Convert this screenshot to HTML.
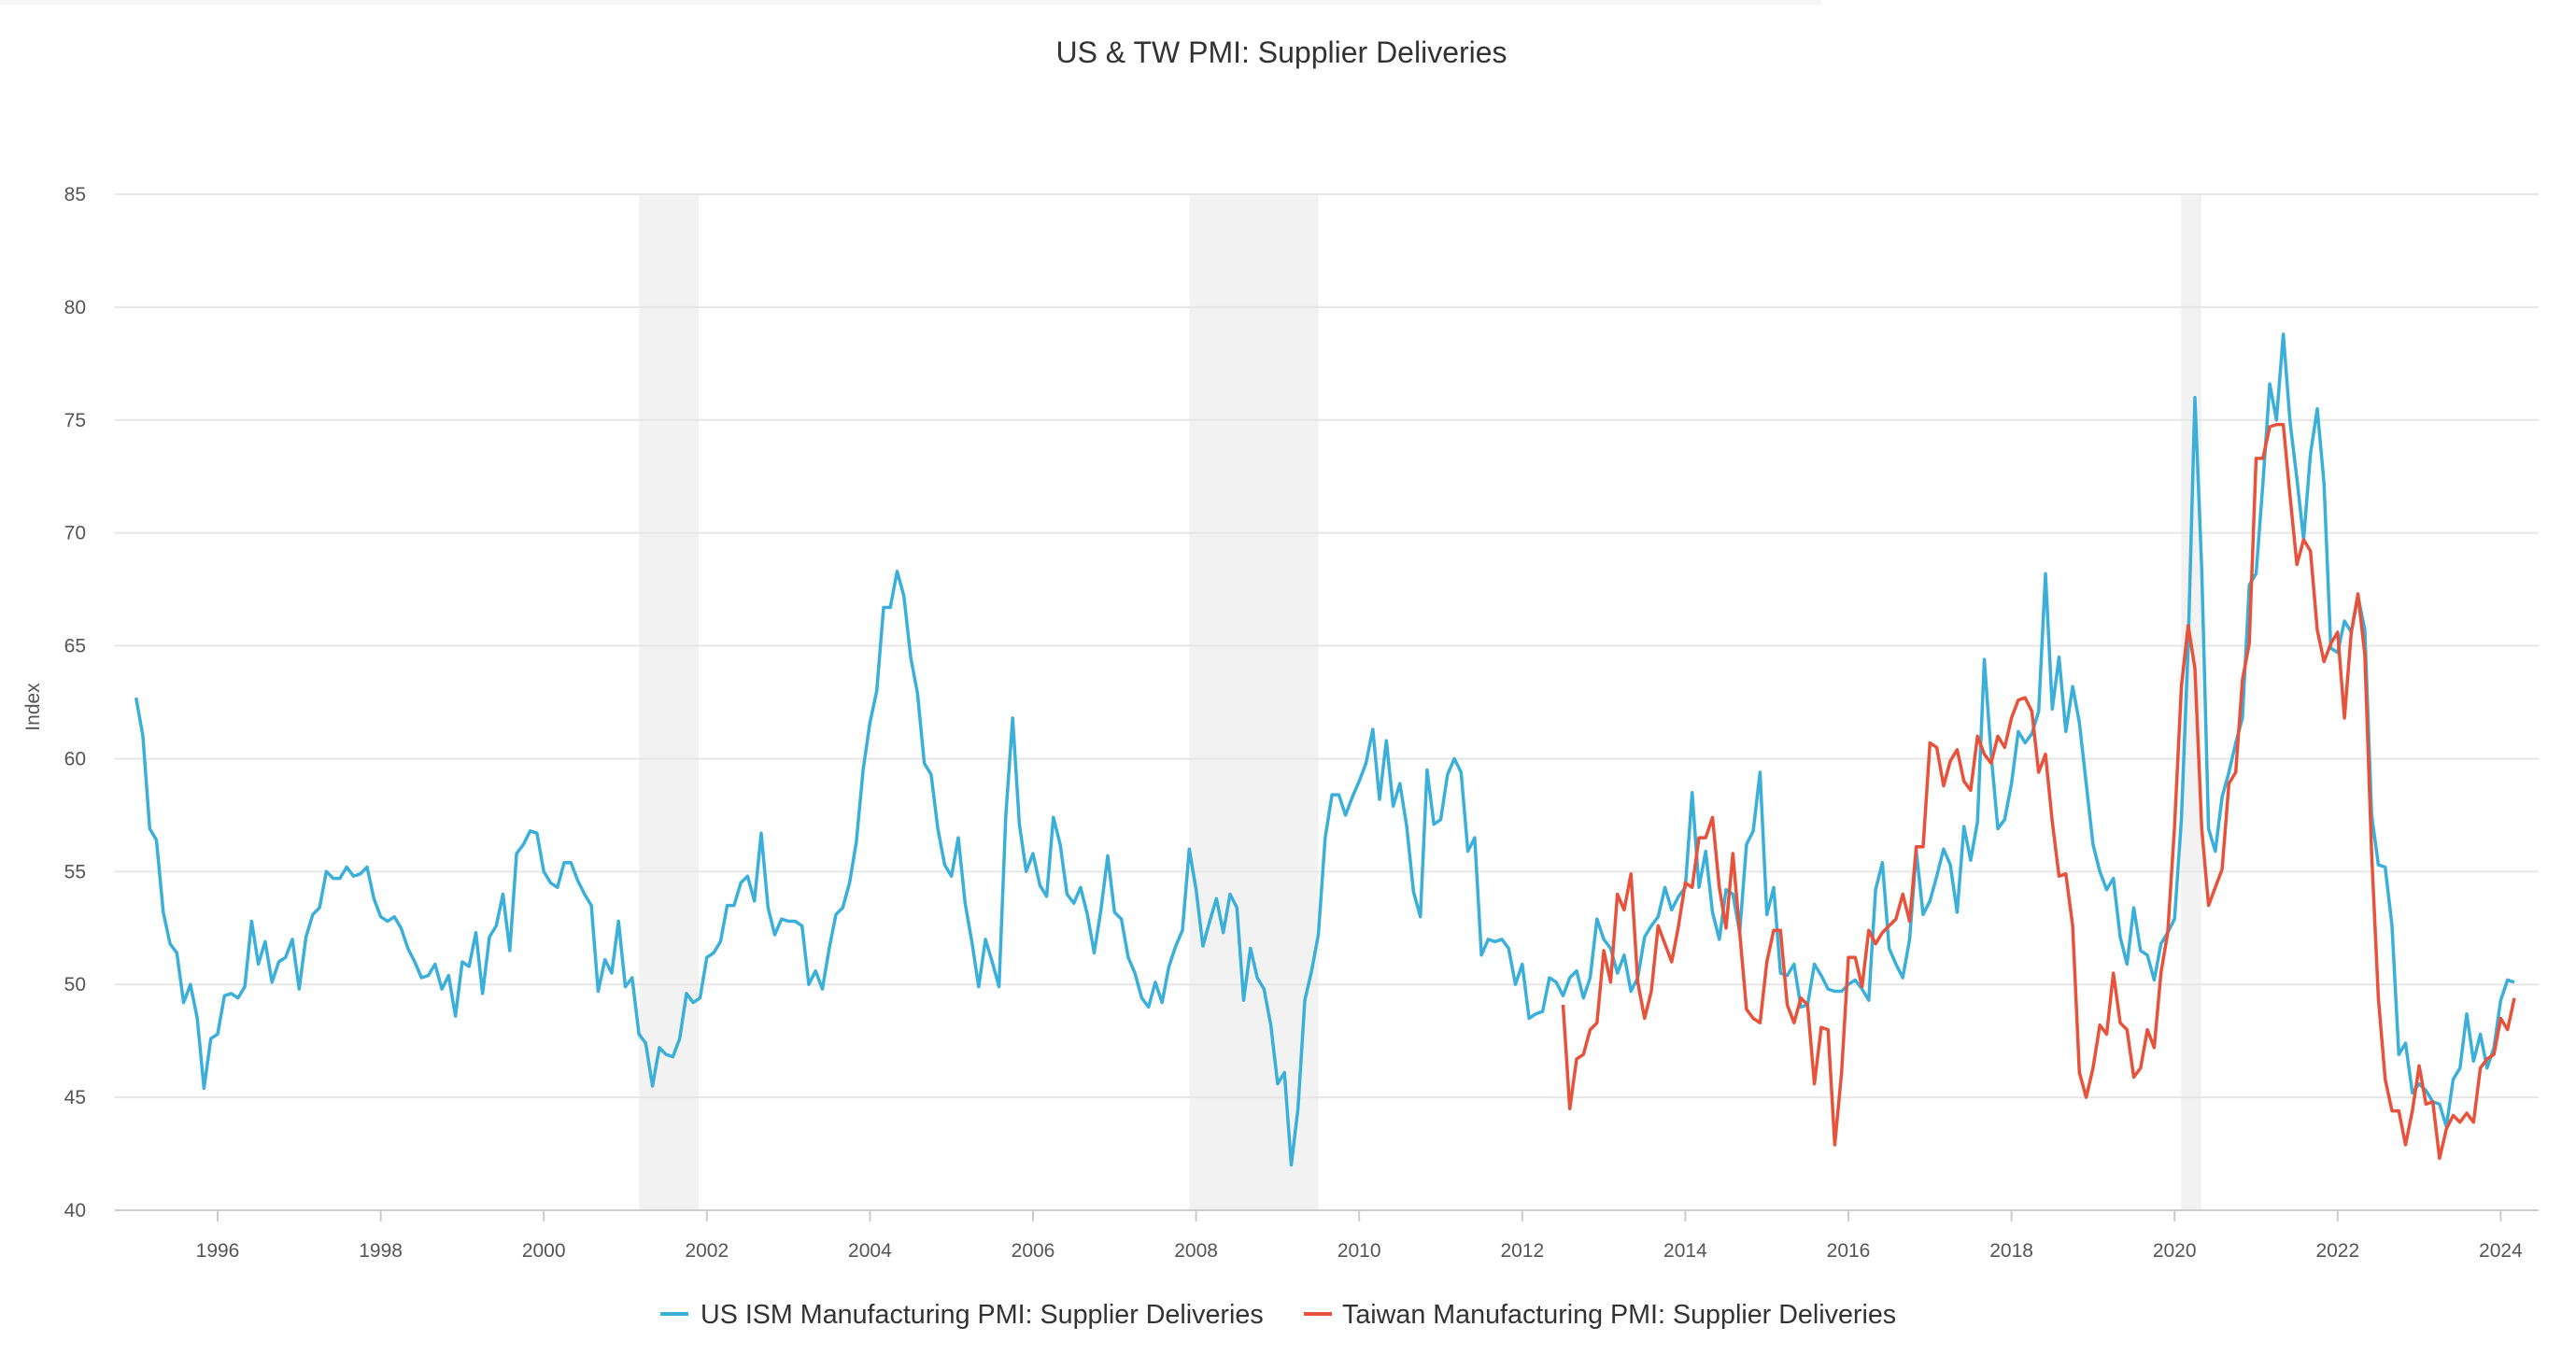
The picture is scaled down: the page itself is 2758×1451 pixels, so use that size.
<!DOCTYPE html>
<html><head><meta charset="utf-8"><style>
body{margin:0;background:#fff;}
svg text{font-family:"Liberation Sans",sans-serif;}
</style></head><body>
<svg id="chart" width="2758" height="1446" xmlns="http://www.w3.org/2000/svg">
<rect x="0" y="0" width="1950" height="5" fill="#f6f6f6"/>
<text x="1372" y="67" text-anchor="middle" font-size="32" fill="#333">US &amp; TW PMI: Supplier Deliveries</text>
<g id="bands"></g>
<g id="grid"></g>
<g id="xaxis"></g>
<g id="yaxis"></g>
<text x="0" y="0" transform="translate(42,757) rotate(-90)" text-anchor="middle" font-size="21" fill="#555">Index</text>
<g id="series"></g>
<g>
<g><line x1="707" y1="1407" x2="737" y2="1407" stroke="#3aafd9" stroke-width="4"/><text x="750" y="1417" font-size="28.7" fill="#333">US ISM Manufacturing PMI: Supplier Deliveries</text></g>
<g><line x1="1396" y1="1407" x2="1426" y2="1407" stroke="#e8523a" stroke-width="4"/><text x="1437" y="1417" font-size="28.7" fill="#333">Taiwan Manufacturing PMI: Supplier Deliveries</text></g>
</g>
</svg>
<script>
const usStart = 1995;
const usValues = [
62.7,61,56.9,56.4,53.2,51.8,51.4,49.2,50,48.5,45.4,47.6,
47.8,49.5,49.6,49.4,49.9,52.8,50.9,51.9,50.1,51,51.2,52,
49.8,52.1,53.1,53.4,55.0,54.7,54.7,55.2,54.8,54.9,55.2,53.8,
53,52.8,53,52.5,51.6,51.0,50.3,50.4,50.9,49.8,50.4,48.6,
51.0,50.8,52.3,49.6,52.1,52.6,54.0,51.5,55.8,56.2,56.8,56.7,
55.0,54.5,54.3,55.4,55.4,54.6,54.0,53.5,49.7,51.1,50.5,52.8,
49.9,50.3,47.8,47.4,45.5,47.2,46.9,46.8,47.6,49.6,49.2,49.4,
51.2,51.4,51.9,53.5,53.5,54.5,54.8,53.7,56.7,53.4,52.2,52.9,
52.8,52.8,52.6,50.0,50.6,49.8,51.6,53.1,53.4,54.5,56.3,59.5,
61.6,63.0,66.7,66.7,68.3,67.2,64.5,62.9,59.8,59.3,56.9,55.3,
54.8,56.5,53.6,51.9,49.9,52.0,51.0,49.9,57.5,61.8,57.1,55.0,
55.8,54.4,53.9,57.4,56.2,54.0,53.6,54.3,53.1,51.4,53.3,55.7,
53.2,52.9,51.2,50.5,49.4,49.0,50.1,49.2,50.8,51.7,52.4,56.0,
54.2,51.7,52.8,53.8,52.3,54.0,53.4,49.3,51.6,50.3,49.8,48.2,
45.6,46.1,42.0,44.5,49.3,50.6,52.2,56.5,58.4,58.4,57.5,58.3,
59.0,59.8,61.3,58.2,60.8,57.9,58.9,57.0,54.1,53.0,59.5,57.1,
57.3,59.3,60.0,59.4,55.9,56.5,51.3,52.0,51.9,52.0,51.6,50.0,
50.9,48.5,48.7,48.8,50.3,50.1,49.5,50.3,50.6,49.4,50.3,52.9,
52.0,51.6,50.5,51.3,49.7,50.3,52.1,52.6,53,54.3,53.3,53.9,
54.3,58.5,54.3,55.9,53.2,52,54.2,54.0,52.3,56.2,56.8,59.4,
53.1,54.3,50.5,50.4,50.9,49.0,49.1,50.9,50.4,49.8,49.7,49.7,
50.0,50.2,49.8,49.3,54.2,55.4,51.6,50.9,50.3,52.0,55.9,53.1,
53.7,54.8,56.0,55.3,53.2,57.0,55.5,57.2,64.4,60.2,56.9,57.3,
58.9,61.2,60.7,61.1,62.1,68.2,62.2,64.5,61.2,63.2,61.6,58.9,
56.2,55.0,54.2,54.7,52.1,50.9,53.4,51.5,51.3,50.2,51.8,52.3,
52.9,57.3,65,76.0,68.4,56.9,55.9,58.3,59.4,60.7,61.8,67.7,
68.2,72.2,76.6,75.0,78.8,74.9,72.4,69.7,73.5,75.5,72.2,64.9,
64.7,66.1,65.6,67.2,65.7,57.5,55.3,55.2,52.6,46.9,47.4,45.2,
45.6,45.3,44.8,44.7,43.7,45.8,46.3,48.7,46.6,47.8,46.3,47.2,
49.3,50.2,50.1];
const twStart = 2012.5;
const twValues = [
49.1,44.5,46.7,46.9,48.0,48.3,
51.5,50.1,54.0,53.3,54.9,50.1,48.5,49.7,52.6,51.8,51,52.6,
54.5,54.3,56.5,56.5,57.4,54.3,52.5,55.8,52.3,48.9,48.5,48.3,
51,52.4,52.4,49.1,48.3,49.4,49.1,45.6,48.1,48.0,42.9,46.1,
51.2,51.2,49.9,52.4,51.8,52.3,52.6,52.9,54.0,52.8,56.1,56.1,
60.7,60.5,58.8,59.9,60.4,59.0,58.6,61.0,60.2,59.8,61.0,60.5,
61.8,62.6,62.7,62.1,59.4,60.2,57.2,54.8,54.9,52.6,46.1,45.0,
46.3,48.2,47.8,50.5,48.3,48.0,45.9,46.3,48.0,47.2,50.5,52.3,
57,63.2,65.9,64,56.9,53.5,54.3,55.1,58.9,59.4,63.5,65.1,
73.3,73.3,74.7,74.8,74.8,71.6,68.6,69.7,69.2,65.7,64.3,65.1,
65.6,61.8,65.6,67.3,64.6,55.8,49.4,45.8,44.4,44.4,42.9,44.4,
46.4,44.7,44.8,42.3,43.6,44.2,43.9,44.3,43.9,46.3,46.7,46.9,
48.5,48.0,49.4];
const yTicks = [40,45,50,55,60,65,70,75,80,85];
const xTicks = [1996,1998,2000,2002,2004,2006,2008,2010,2012,2014,2016,2018,2020,2022,2024];
const recessions = [[2001.17,2001.9],[2007.92,2009.5],[2020.08,2020.33]];

const NS='http://www.w3.org/2000/svg';
const X0=123, X1=2718;
function xs(t){return 233+(t-1996)*87.3;}
function ys(v){return 208+(85-v)*(1088/45);}
function mk(tag,attrs,parent){const e=document.createElementNS(NS,tag);for(const k in attrs)e.setAttribute(k,attrs[k]);parent.appendChild(e);return e;}

const bands=document.getElementById('bands');
recessions.forEach(r=>{
  const e=mk('rect',{x:xs(r[0]),y:ys(85),width:xs(r[1])-xs(r[0]),height:ys(40)-ys(85),fill:'#f2f2f2'},bands);
  
  
});
const grid=document.getElementById('grid'), ya=document.getElementById('yaxis'), xa=document.getElementById('xaxis');
yTicks.forEach(v=>{
  const l=mk('line',{x1:X0,x2:X1,y1:ys(v),y2:ys(v),stroke:v===40?'#ccc':'#e6e6e6','stroke-width':2},grid);
  
  
  const t=mk('text',{x:92,y:ys(v)+7,'text-anchor':'end','font-size':21,fill:'#555'},ya);
  t.textContent=v;
  
  
});
xTicks.forEach(y=>{
  const l=mk('line',{x1:xs(y),x2:xs(y),y1:ys(40),y2:ys(40)+12,stroke:'#ccc','stroke-width':2},xa);
  
  
  const t=mk('text',{x:xs(y),y:1346,'text-anchor':'middle','font-size':21,fill:'#555'},xa);
  t.textContent=y;
  
  
});
function line(start,vals,color,name){
  const d=vals.map((v,i)=>(i?'L':'M')+xs(start+i/12).toFixed(1)+' '+ys(v).toFixed(1)).join(' ');
  const p=mk('path',{d:d,fill:'none',stroke:color,'stroke-width':3.5,'stroke-linejoin':'round'},document.getElementById('series'));
  
  
}
line(usStart,usValues,'#3aafd9','us-ism-line');
line(twStart,twValues,'#e8523a','taiwan-pmi-line');
</script>
</body></html>
